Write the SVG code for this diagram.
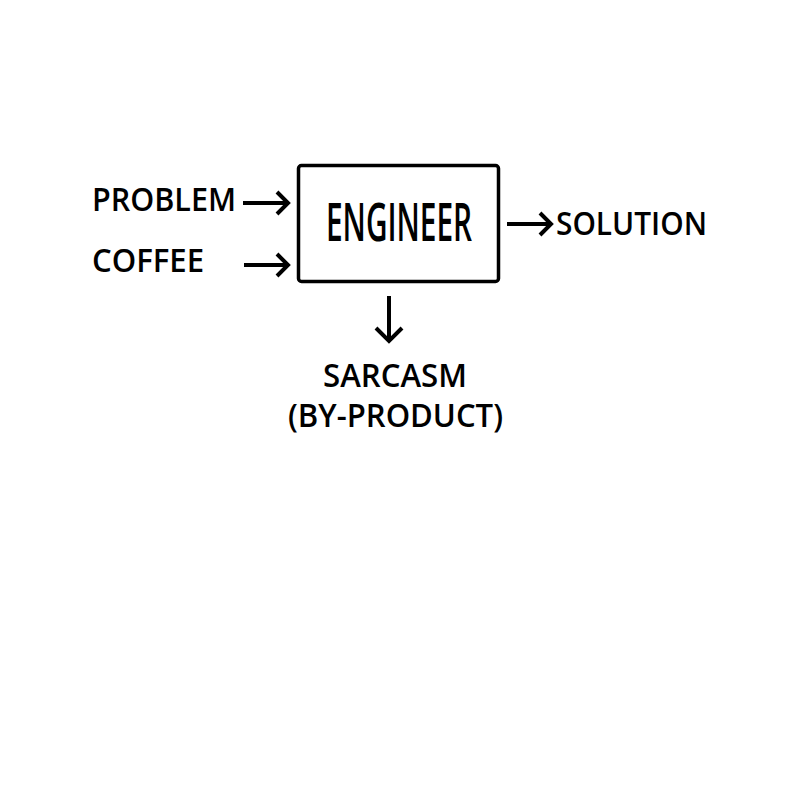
<svg xmlns="http://www.w3.org/2000/svg" width="800" height="800" viewBox="0 0 800 800">
<style>
.t{font-family:"Open Sans","Liberation Sans",sans-serif;font-weight:600;fill:#000}
.c{fill:none;stroke:#000;stroke-width:4;stroke-linecap:butt;stroke-linejoin:miter}
</style>
<rect width="800" height="800" fill="#fff"/>
<g id="engineer">
<rect x="298.5" y="165.5" width="200" height="116" rx="3" fill="none" stroke="#000" stroke-width="3.5"/>
<text class="t" x="399" y="241" font-size="52" text-anchor="middle" textLength="146" lengthAdjust="spacingAndGlyphs">ENGINEER</text>
</g>
<g id="problem"><text class="t" x="92" y="211" font-size="33" textLength="144" lengthAdjust="spacingAndGlyphs">PROBLEM</text></g>
<g id="coffee"><text class="t" x="92" y="272" font-size="33" textLength="112" lengthAdjust="spacingAndGlyphs">COFFEE</text></g>
<g id="solution"><text class="t" x="556" y="235" font-size="33" textLength="151" lengthAdjust="spacingAndGlyphs">SOLUTION</text></g>
<g id="sarcasm">
<text class="t" x="395" y="387" font-size="33" text-anchor="middle" textLength="144" lengthAdjust="spacingAndGlyphs">SARCASM</text>
<text class="t" x="395.5" y="427" font-size="33" text-anchor="middle" textLength="215" lengthAdjust="spacingAndGlyphs">(BY-PRODUCT)</text>
</g>
<g id="connectors">
<path class="c" d="M243 203H287M277 192L288 203L277 214"/>
<path class="c" d="M244 265H287M277 254L288 265L277 276"/>
<path class="c" d="M507 224H550M540 213L551 224L540 235"/>
<path class="c" d="M389 296V340M376 328L389 341L402 328"/>
</g>
</svg>
